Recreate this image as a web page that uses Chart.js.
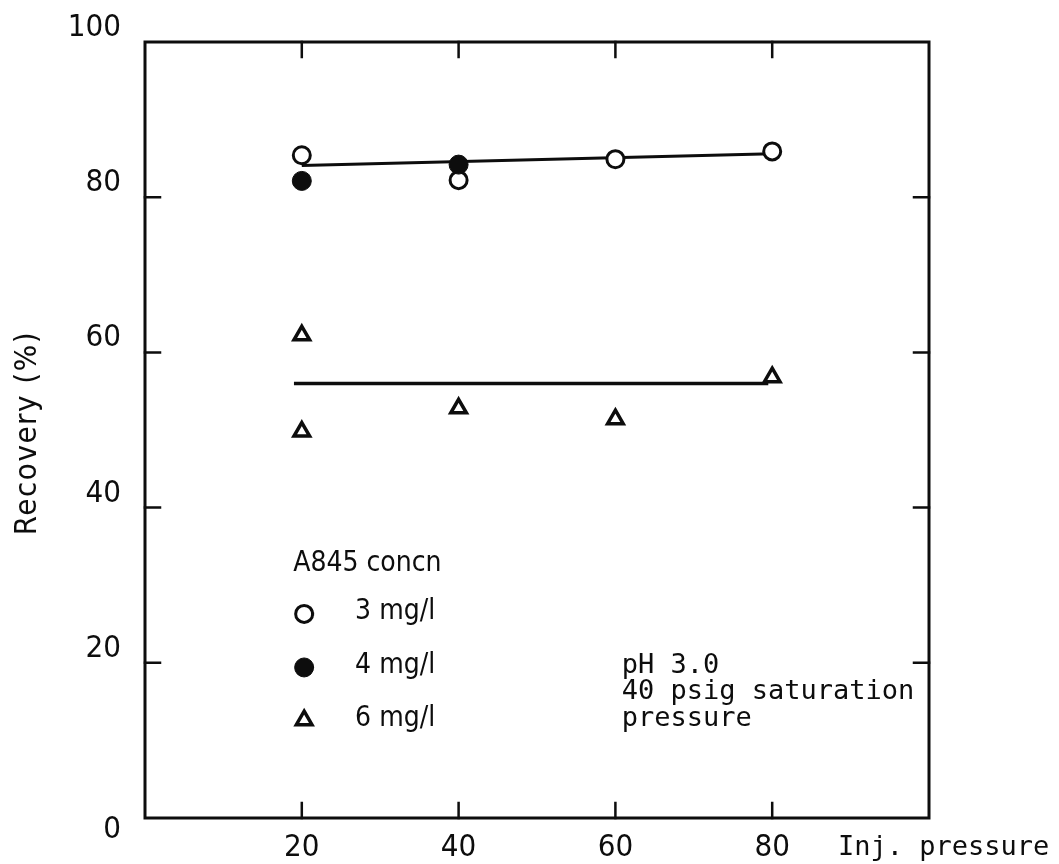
<!DOCTYPE html>
<html>
<head>
<meta charset="utf-8">
<title>Recovery vs injection pressure</title>
<script src="https://cdn.jsdelivr.net/npm/chart.js@4.4.0/dist/chart.umd.min.js"></script>
<style>
  html, body { margin: 0; padding: 0; background: #ffffff; }
  #c { display: block; }
</style>
</head>
<body>
<canvas id="c" width="1059" height="864"></canvas>
<script>
// A845 concentration series: injection pressure (psig) vs recovery (%)
const injPressure3 = [20, 40, 60, 80];
const recovery3    = [85.4, 82.2, 84.9, 85.9];

const injPressure4 = [20, 40];
const recovery4    = [82.1, 84.2];

const injPressure6 = [20, 20, 40, 60, 80];
const recovery6    = [62.2, 49.8, 52.8, 51.4, 56.8];

// Fitted lines
const fitUpperX = [20, 80];
const fitUpperY = [84.1, 85.6];
const fitLowerX = [19, 79.5];
const fitLowerY = [56.0, 56.0];

// Axes
const xTicks = [20, 40, 60, 80];
const yTicks = [0, 20, 40, 60, 80, 100];
const xAxisLabel = 'Inj. pressure';
const yAxisLabel = 'Recovery (%)';

// Legend and conditions
const legendTitle = 'A845 concn';
const legendLabels = ['3 mg/l', '4 mg/l', '6 mg/l'];
const noteLines = ['pH 3.0', '40 psig saturation', 'pressure'];

const INK = '#0d0d0d';
const SANS = "'Liberation Sans Narrow', 'DejaVu Sans Condensed', 'Liberation Sans', sans-serif";
const MONO = "'DejaVu Sans Mono', 'Liberation Mono', monospace";

const zip = (xs, ys) => xs.map((x, i) => ({ x: x, y: ys[i] }));

function markerPath(ctx, style, x, y, r) {
  ctx.beginPath();
  if (style === 'triangle') {
    let rad = 0;
    ctx.moveTo(x + Math.sin(rad) * r, y - Math.cos(rad) * r);
    rad += 2 * Math.PI / 3;
    ctx.lineTo(x + Math.sin(rad) * r, y - Math.cos(rad) * r);
    rad += 2 * Math.PI / 3;
    ctx.lineTo(x + Math.sin(rad) * r, y - Math.cos(rad) * r);
    ctx.closePath();
  } else {
    ctx.arc(x, y, r, 0, Math.PI * 2);
  }
}

const frameAndNotes = {
  id: 'frameAndNotes',
  afterDatasetsDraw(chart) {
    const { ctx, chartArea: a, scales } = chart;
    const xs = scales.x, ys = scales.y;
    ctx.save();
    ctx.strokeStyle = INK;
    ctx.fillStyle = INK;
    ctx.lineCap = 'square';

    // plot frame
    ctx.lineWidth = 3;
    ctx.strokeRect(a.left, a.top, a.right - a.left, a.bottom - a.top);

    // inward ticks on all four sides
    const tl = 15;
    ctx.lineWidth = 2.5;
    ctx.beginPath();
    xTicks.forEach(v => {
      const px = xs.getPixelForValue(v);
      ctx.moveTo(px, a.bottom); ctx.lineTo(px, a.bottom - tl);
      ctx.moveTo(px, a.top);    ctx.lineTo(px, a.top + tl);
    });
    yTicks.filter(v => v > 0 && v < 100).forEach(v => {
      const py = ys.getPixelForValue(v);
      ctx.moveTo(a.left, py);  ctx.lineTo(a.left + tl, py);
      ctx.moveTo(a.right, py); ctx.lineTo(a.right - tl, py);
    });
    ctx.stroke();

    // tick labels
    ctx.font = '31px ' + SANS;
    ctx.textBaseline = 'middle';
    ctx.textAlign = 'right';
    yTicks.forEach(v => {
      const py = ys.getPixelForValue(v) + (v === 0 ? 12 : -14);
      ctx.fillText(String(v), a.left - 24, py);
    });
    ctx.textAlign = 'center';
    xTicks.forEach(v => {
      ctx.fillText(String(v), xs.getPixelForValue(v), a.bottom + 30);
    });

    // axis titles
    ctx.font = '27px ' + MONO;
    ctx.textAlign = 'left';
    ctx.fillText(xAxisLabel, xs.getPixelForValue(88.4), a.bottom + 30);

    ctx.save();
    ctx.translate(28, 433);
    ctx.rotate(-Math.PI / 2);
    ctx.font = '31px ' + SANS;
    ctx.textAlign = 'center';
    ctx.letterSpacing = '1.5px';
    ctx.fillText(yAxisLabel, 0, 0);
    ctx.restore();

    // legend
    ctx.font = '28px ' + SANS;
    ctx.textAlign = 'left';
    ctx.fillText(legendTitle, xs.getPixelForValue(18.9), ys.getPixelForValue(32.8));
    const legendY = [26.3, 19.4, 12.6];
    const styles = [
      { s: 'circle', r: 8.5, fill: '#ffffff', lw: 3 },
      { s: 'circle', r: 9.5, fill: INK, lw: 1 },
      { s: 'triangle', r: 9, fill: '#ffffff', lw: 3.5 }
    ];
    legendLabels.forEach((t, i) => {
      const mx = xs.getPixelForValue(20.3);
      const my = ys.getPixelForValue(legendY[i]);
      const st = styles[i];
      markerPath(ctx, st.s, mx, my, st.r);
      ctx.fillStyle = st.fill;
      ctx.fill();
      ctx.lineWidth = st.lw;
      ctx.strokeStyle = INK;
      ctx.stroke();
      ctx.fillStyle = INK;
      ctx.fillText(t, xs.getPixelForValue(26.8), my - 2);
    });

    // experimental conditions
    ctx.font = '27px ' + MONO;
    noteLines.forEach((t, i) => {
      ctx.fillText(t, xs.getPixelForValue(60.8), ys.getPixelForValue(19.6) + i * 26.5);
    });

    ctx.restore();
  }
};

new Chart(document.getElementById('c'), {
  type: 'scatter',
  data: {
    datasets: [
      {
        label: '3/4 mg/l fit',
        data: zip(fitUpperX, fitUpperY),
        showLine: true, borderColor: INK, borderWidth: 3,
        pointRadius: 0, order: 10
      },
      {
        label: '6 mg/l fit',
        data: zip(fitLowerX, fitLowerY),
        showLine: true, borderColor: INK, borderWidth: 3.5,
        pointRadius: 0, order: 10
      },
      {
        label: legendLabels[0],
        data: zip(injPressure3, recovery3),
        pointStyle: 'circle', pointRadius: 8.5, pointBorderWidth: 3,
        pointBackgroundColor: '#ffffff', pointBorderColor: INK, order: 2
      },
      {
        label: legendLabels[1],
        data: zip(injPressure4, recovery4),
        pointStyle: 'circle', pointRadius: 9.5, pointBorderWidth: 1,
        pointBackgroundColor: INK, pointBorderColor: INK, order: 1
      },
      {
        label: legendLabels[2],
        data: zip(injPressure6, recovery6),
        pointStyle: 'triangle', pointRadius: 9, pointBorderWidth: 3.5,
        pointBackgroundColor: '#ffffff', pointBorderColor: INK, order: 0
      }
    ]
  },
  options: {
    responsive: false,
    animation: false,
    devicePixelRatio: 1,
    layout: { padding: { left: 145, right: 130, top: 42, bottom: 46 } },
    scales: {
      x: { type: 'linear', min: 0, max: 100, display: false },
      y: { type: 'linear', min: 0, max: 100, display: false }
    },
    plugins: {
      legend: { display: false },
      tooltip: { enabled: false }
    },
    elements: { point: { hoverRadius: 9 } },
    clip: false
  },
  plugins: [frameAndNotes]
});
</script>
</body>
</html>
